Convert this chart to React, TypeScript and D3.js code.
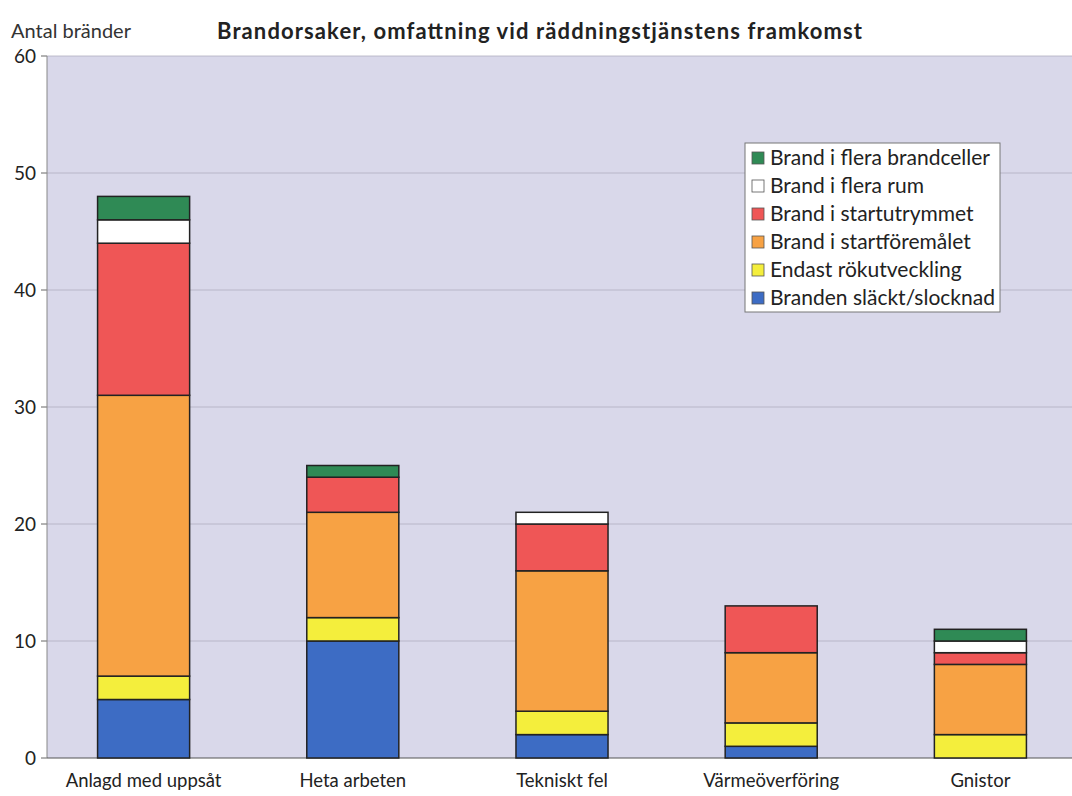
import React from 'react';
import * as d3 from 'd3';

const categories = ['Anlagd med uppsåt', 'Heta arbeten', 'Tekniskt fel', 'Värmeöverföring', 'Gnistor'];
const seriesNames = [
  'Branden släckt/slocknad',
  'Endast rökutveckling',
  'Brand i startföremålet',
  'Brand i startutrymmet',
  'Brand i flera rum',
  'Brand i flera brandceller',
];
const slocknad = [5, 10, 2, 1, 0];
const rokutveckling = [2, 2, 2, 2, 2];
const startforemalet = [24, 9, 12, 6, 6];
const startutrymmet = [13, 3, 4, 4, 1];
const fleraRum = [2, 0, 1, 0, 1];
const fleraBrandceller = [2, 1, 0, 0, 1];
const yTicks = [0, 10, 20, 30, 40, 50, 60];

const colors = ['#3d6cc4', '#f4ee3c', '#f7a244', '#ef5656', '#ffffff', '#2f8a55'];

const W = 1072;
const H = 796;
const left = 47;
const top = 56;
const bottom = 758;
const font = 'Lato, "Open Sans", sans-serif';

export default function App() {
  const series = [slocknad, rokutveckling, startforemalet, startutrymmet, fleraRum, fleraBrandceller];
  const rows = categories.map((c, i) => {
    const r: Record<string, any> = { cat: c };
    seriesNames.forEach((s, j) => (r[s] = series[j][i]));
    return r;
  });
  const stacked = d3.stack<any>().keys(seriesNames)(rows);

  const x = d3.scaleBand().domain(categories).range([left - 8, 1085]).paddingInner(0.56).paddingOuter(0.28);
  const y = d3.scaleLinear().domain([0, 60]).range([bottom, top]);

  const legendX = 745;
  const legendY = 143;

  return (
    <svg width={W} height={H} style={{ position: 'absolute', left: 0, top: 0, background: '#fff' }}>
      <rect x={left} y={top} width={W - left} height={bottom - top} fill="#d9d8ea" />
      {yTicks.map(t => (
        <g key={t}>
          {t > 0 && <line x1={left} x2={W} y1={y(t)} y2={y(t)} stroke="#b0afc0" strokeWidth={0.8} />}
          <line x1={left - 6} x2={left} y1={y(t)} y2={y(t)} stroke="#666" strokeWidth={1} />
          <text x={left - 11} y={y(t)} dy="0.35em" textAnchor="end" fontFamily={font} fontSize={19} fill="#222">
            {t}
          </text>
        </g>
      ))}
      <line x1={left} x2={left} y1={top} y2={bottom} stroke="#888" strokeWidth={1} />
      <line x1={left} x2={W} y1={bottom} y2={bottom} stroke="#555" strokeWidth={1.2} />
      {stacked.map((layer, j) => (
        <g key={layer.key}>
          {layer.map((d, i) =>
            d[1] - d[0] > 0 ? (
              <rect
                key={i}
                x={x(categories[i])!}
                y={y(d[1])}
                width={x.bandwidth()}
                height={y(d[0]) - y(d[1])}
                fill={colors[j]}
                stroke="#222"
                strokeWidth={1.5}
              />
            ) : null
          )}
        </g>
      ))}
      {categories.map(c => (
        <text
          key={c}
          x={x(c)! + x.bandwidth() / 2}
          y={787}
          textAnchor="middle"
          fontFamily={font}
          fontSize={18.5}
          fill="#222"
        >
          {c}
        </text>
      ))}
      <text x={11} y={38} fontFamily={font} fontSize={20} fill="#333">
        Antal bränder
      </text>
      <text
        x={217}
        y={39}
        fontFamily={font}
        fontSize={22}
        fontWeight="bold"
        fill="#222"
        textLength={645}
        lengthAdjust="spacing"
      >
        Brandorsaker, omfattning vid räddningstjänstens framkomst
      </text>
      <rect x={legendX} y={legendY} width={255} height={169} fill="#fff" stroke="#777" strokeWidth={1} />
      {seriesNames
        .slice()
        .reverse()
        .map((s, k) => {
          const j = seriesNames.length - 1 - k;
          const cy = legendY + 15 + k * 28;
          return (
            <g key={s}>
              <rect x={legendX + 7} y={cy - 6} width={12} height={12} fill={colors[j]} stroke="#555" strokeWidth={0.8} />
              <text x={legendX + 25} y={cy} dy="0.35em" fontFamily={font} fontSize={21} fill="#222">
                {s}
              </text>
            </g>
          );
        })}
    </svg>
  );
}
